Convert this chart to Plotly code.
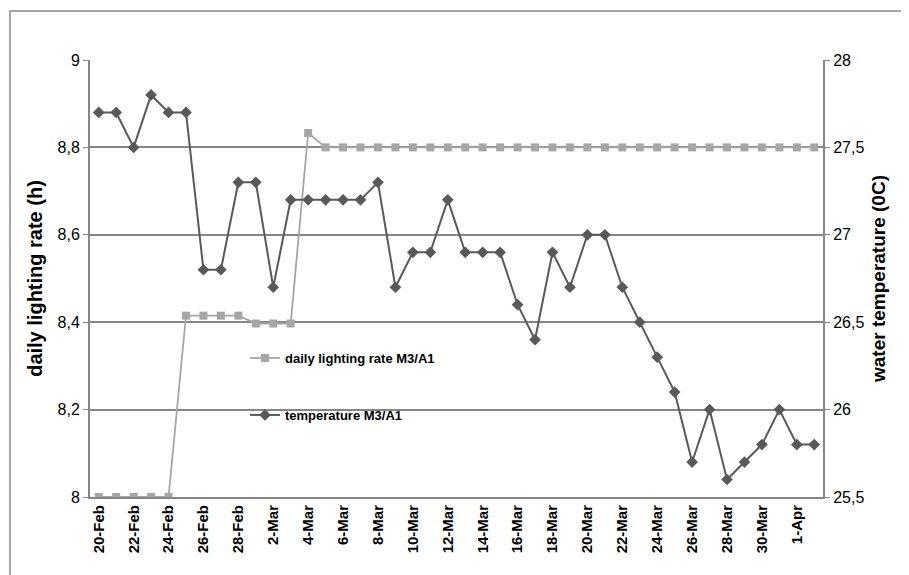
import plotly.graph_objects as go

# categories: 20-Feb .. 2-Apr
days = ([f"{d}-Feb" for d in range(20, 29)] + [f"{d}-Mar" for d in range(1, 32)]
        + [f"{d}-Apr" for d in range(1, 3)])

lighting = ([8.0] * 5 + [8.415] * 4 + [8.397] * 3 + [8.833] + [8.8] * 29)

temperature = [27.7, 27.7, 27.5, 27.8, 27.7, 27.7, 26.8, 26.8, 27.3, 27.3,
               26.7, 27.2, 27.2, 27.2, 27.2, 27.2, 27.3, 26.7, 26.9, 26.9,
               27.2, 26.9, 26.9, 26.9, 26.6, 26.4, 26.9, 26.7, 27.0, 27.0,
               26.7, 26.5, 26.3, 26.1, 25.7, 26.0, 25.6, 25.7, 25.8, 26.0,
               25.8, 25.8]

tick_days = days[::2]

GRID = "#868686"
FONT = "Liberation Sans, Arial, sans-serif"

fig = go.Figure()
fig.add_trace(go.Scatter(
    x=days, y=lighting, mode="lines+markers",
    name="daily lighting rate M3/A1",
    line=dict(color="#A6A6A6", width=1.8),
    marker=dict(symbol="square", size=8, color="#A6A6A6"),
    legend="legend", showlegend=True,
))
fig.add_trace(go.Scatter(
    x=days, y=temperature, mode="lines+markers", yaxis="y2",
    name="temperature M3/A1",
    line=dict(color="#595959", width=2),
    marker=dict(symbol="diamond", size=9, color="#595959"),
    legend="legend2", showlegend=True,
))

# the page body adds 8px around the figure
OFF = 8
W, H = 909 - OFF, 575 - OFF
L, R, T, B = 90 - OFF, 86, 60 - OFF, 78
pw, ph = W - L - R, H - T - B

def px(x):
    return (x - OFF - L) / pw

def py(y):
    return (H - B - (y - OFF)) / ph

fig.update_layout(
    width=W, height=H, showlegend=True,
    margin=dict(l=L, r=R, t=T, b=B),
    paper_bgcolor="white", plot_bgcolor="white",
    font=dict(family=FONT, size=16, color="black"),
    separators=",.",
    xaxis=dict(
        type="category", categoryorder="array", categoryarray=days,
        range=[-0.5, len(days) - 0.5],
        tickmode="array", tickvals=tick_days, ticktext=tick_days,
        tickangle=-90, tickfont=dict(size=15, family=FONT, weight="bold"),
        showgrid=False, showline=True, linecolor=GRID, linewidth=2,
        ticks="", zeroline=False,
    ),
    yaxis=dict(
        range=[8, 9], dtick=0.2, showgrid=True, gridcolor=GRID, gridwidth=2,
        showline=True, linecolor=GRID, linewidth=2, ticks="outside",
        ticklen=5, tickcolor=GRID, zeroline=False,
        title=dict(text="daily lighting rate (h)", standoff=10,
                   font=dict(size=20, weight="bold")),
    ),
    yaxis2=dict(
        range=[25.5, 28], dtick=0.5, overlaying="y", side="right",
        showgrid=False, showline=True, linecolor=GRID, linewidth=2,
        ticks="outside", ticklen=5, tickcolor=GRID, zeroline=False,
        title=dict(text="water temperature (0C)", standoff=8,
                   font=dict(size=19, weight="bold")),
    ),
    legend=dict(x=px(245), y=py(358), xanchor="left", yanchor="middle",
                bgcolor="rgba(0,0,0,0)", font=dict(size=13, weight="bold")),
    legend2=dict(x=px(245), y=py(415), xanchor="left", yanchor="middle",
                 bgcolor="rgba(0,0,0,0)", font=dict(size=13, weight="bold")),
    shapes=[dict(type="rect", xref="paper", yref="paper",
                 x0=px(10), x1=px(915), y0=py(585), y1=py(11),
                 line=dict(color=GRID, width=1.5), layer="below")],
)

fig.write_html("out.html")
